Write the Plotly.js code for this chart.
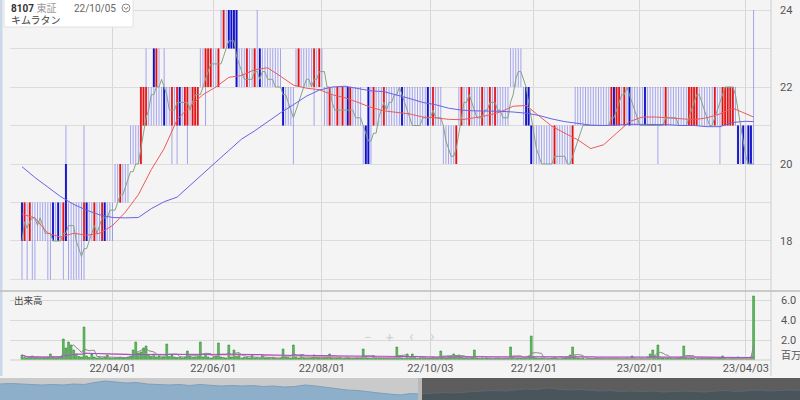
<!DOCTYPE html>
<html><head><meta charset="utf-8">
<script src="https://cdn.plot.ly/plotly-3.0.1.min.js"></script>
<style>html,body{margin:0;padding:0;background:#f4f4f4}#chart{width:800px;height:400px}</style>
</head><body><div id="chart"></div>
<script>
// ---- data ----
const dateTickIdx = [35, 74, 116, 158, 198, 239, 280];
const dateTickText = ['22/04/01', '22/06/01', '22/08/01', '22/10/03', '22/12/01', '23/02/01', '23/04/03'];
const priceTicks = [17, 18, 19, 20, 21, 22, 23, 24];
const priceTickText = ['', '18', '', '20', '', '22', '', '24'];
const volTicks = [0, 2, 4, 6];
const volTickText = ['', '2.0', '4.0', '6.0'];

const openP = [
19,18,18,18,19,18,18,19,18,18, 18,18,19,18,19,18,18,20,19,18,
18,17,17,18,18,19,18,18,18,18, 19,18,19,19,19,19,19,19,19,19,
20,20,20,20,20,20,20,21,21,21, 22,23,22,22,22,22,21,21,21,22,
21,22,21,21,21,21,21,21,21,22, 22,22,22,22,22,22,22,23,23,23,
24,24,24,24,22,22,22,22,22,22, 22,22,23,23,22,22,22,22,22,22,
22,22,22,21,21,21,22,22,22,22, 22,22,22,22,22,22,22,22,21,21,
21,21,21,21,21,21,22,21,21,21, 21,21,21,21,22,21,21,21,22,21,
21,21,22,22,22,22,22,22,21,21, 21,21,21,21,21,22,21,22,21,21,
21,21,21,20,20,20,20,21,20,22, 21,22,21,21,21,21,21,21,21,22,
21,21,21,21,21,21,21,21,22,23, 22,23,22,22,22,22,22,21,20,20,
20,20,20,20,20,20,20,20,20,20, 20,20,20,20,21,21,21,21,21,21,
21,21,21,21,21,21,21,21,21,22, 21,21,22,21,22,22,21,21,21,21,
21,22,21,21,21,21,21,21,21,21, 21,21,21,21,21,21,21,21,21,21,
21,21,21,21,21,21,21,21,21,22, 22,21,21,21,21,21,21,21,20,21,
20,21,21,20];
const highP = [
19,19,19,19,19,19,19,19,19,19, 19,19,19,19,19,19,19,21,19,19,
19,19,19,19,21,19,19,19,19,19, 19,19,19,19,19,19,20,20,20,20,
20,20,21,21,21,21,22,22,23,22, 22,23,23,23,22,23,22,22,22,22,
22,22,22,22,22,22,22,22,22,23, 23,23,23,23,23,23,23,24,24,24,
24,24,24,24,23,23,23,23,23,23, 23,24,23,23,23,23,23,23,23,23,
23,22,22,22,22,22,23,23,23,23, 23,23,23,23,23,23,23,22,22,22,
22,22,22,22,22,22,22,22,22,22, 22,22,21,21,22,22,22,22,22,22,
22,22,22,22,22,22,22,22,22,22, 22,22,22,22,22,22,22,22,22,22,
22,22,22,21,21,21,21,21,21,22, 22,22,22,22,22,22,22,22,22,22,
22,22,22,22,22,22,22,22,22,23, 23,23,23,23,22,22,22,21,21,21,
21,21,21,21,21,21,21,21,21,21, 21,21,21,21,22,22,22,22,22,22,
22,22,22,22,22,22,22,22,22,22, 22,22,22,22,22,22,22,22,22,22,
22,22,22,22,22,22,22,22,22,22, 22,22,22,22,22,22,22,22,22,22,
22,22,22,22,22,22,22,22,22,22, 22,22,22,22,22,22,22,21,21,21,
21,21,21,24];
const lowP = [
17,18,17,18,17,17,18,18,18,18, 17,17,18,18,18,18,17,18,17,17,
17,17,17,17,17,18,18,18,18,18, 18,18,18,18,18,18,19,19,19,19,
19,19,20,20,20,20,20,21,21,21, 21,21,21,21,21,21,21,21,20,21,
20,21,21,21,20,21,21,21,21,22, 22,21,22,22,22,22,22,23,23,23,
23,23,23,22,22,22,22,22,22,22, 22,22,22,22,22,22,22,22,22,22,
22,21,21,21,21,20,22,22,22,22, 22,22,22,21,22,22,22,21,21,21,
21,21,21,21,21,21,21,21,21,21, 21,21,20,20,20,20,21,21,21,21,
21,21,21,21,21,21,21,21,21,21, 21,21,21,21,21,21,21,21,21,21,
21,21,21,20,20,20,20,20,20,21, 21,21,21,21,21,21,21,21,21,21,
21,21,21,21,21,21,21,21,21,22, 22,22,22,22,21,21,21,20,20,20,
20,20,20,20,20,20,20,20,20,20, 20,20,20,20,21,21,21,21,21,21,
21,21,21,21,21,21,21,21,21,21, 21,21,21,21,21,21,21,21,21,21,
21,21,21,21,21,21,20,21,21,21, 21,21,21,21,21,21,21,21,21,21,
21,21,21,21,21,21,21,21,21,21, 20,21,21,21,21,21,21,20,20,20,
20,20,20,20];
const closeP = [
18,19,18,19,19,18,18,19,18,18, 18,18,18,18,18,18,19,18,19,18,
18,17,17,18,19,18,18,18,19,18, 19,19,18,19,19,19,19,19,20,19,
20,20,20,20,20,20,22,22,22,21, 22,22,23,22,22,21,21,21,22,22,
22,21,21,22,22,21,22,22,22,22, 22,23,23,23,22,22,23,23,24,23,
23,23,23,22,22,22,22,23,22,22, 23,22,22,23,22,22,22,22,22,22,
22,21,22,21,21,21,22,23,22,22, 22,22,22,23,22,23,22,22,21,22,
21,21,22,21,22,21,21,22,21,21, 21,21,21,20,20,21,22,21,22,21,
22,21,22,22,22,22,22,21,21,21, 21,21,21,21,21,22,21,21,21,22,
21,21,21,20,20,20,20,21,21,22, 22,22,21,22,21,21,21,21,22,22,
21,22,21,22,21,21,21,21,22,23, 22,23,22,22,22,21,21,20,20,20,
20,20,20,20,20,20,21,20,20,20, 20,20,20,21,21,21,21,21,21,21,
21,21,21,21,21,21,21,21,22,21, 22,22,22,22,22,21,21,21,21,21,
21,21,21,21,21,21,21,21,21,22, 21,21,21,21,21,21,21,21,22,22,
22,22,21,21,21,21,21,21,22,22, 22,22,22,22,22,22,21,20,20,20,
20,20,20,20];
// volume, millions of shares
const volume = [
0.5,0.25,0.2,0.3,0.4,0.22,0.3,0.18,0.25,0.2, 0.3,0.6,0.35,0.2,0.25,0.3,2.1,1.2,1.8,1.5,
1.0,0.6,0.35,0.3,3.3,0.4,0.25,0.6,0.3,0.2, 0.25,0.2,0.3,0.5,0.2,0.15,0.2,0.25,0.3,0.2,
0.25,0.3,0.4,1.0,1.8,0.7,0.8,1.2,1.4,0.5, 0.35,0.6,0.3,0.4,0.25,0.3,1.6,0.35,0.5,0.3,
0.25,0.3,0.2,0.3,0.9,0.4,0.25,0.3,0.35,1.8, 0.3,0.6,0.3,0.2,0.25,0.4,1.7,0.3,0.25,0.2,
1.5,0.3,1.0,0.35,0.6,0.2,0.3,0.25,0.2,0.5, 0.2,0.25,0.15,0.5,0.2,0.2,0.15,0.25,0.2,0.15,
0.2,1.1,0.3,0.25,0.2,1.5,0.3,0.2,0.5,0.25, 0.2,0.15,0.2,0.5,0.25,0.2,0.15,0.2,0.3,0.6,
0.2,0.15,0.2,0.25,0.15,0.2,0.3,0.2,0.15,0.2, 0.25,0.2,1.1,0.35,0.2,0.15,0.4,0.2,0.15,0.2,
0.15,0.2,0.25,0.15,0.2,1.3,0.3,0.2,0.15,0.6, 0.2,0.6,0.25,0.15,0.2,0.15,0.2,0.15,0.2,0.3,
0.2,0.25,0.9,0.3,0.2,0.35,0.4,0.6,0.45,0.5, 0.3,0.2,0.25,0.15,0.2,1.0,0.2,0.15,0.2,0.15,
0.2,0.15,0.1,0.15,0.2,0.15,0.1,0.2,0.15,1.3, 0.3,0.15,0.2,0.15,0.25,0.3,0.4,2.4,0.35,0.2,
0.15,0.2,0.15,0.1,0.15,0.2,0.25,0.15,0.1,0.15, 0.2,0.3,0.5,1.3,0.4,0.2,0.15,0.2,0.1,0.15,
0.15,0.1,0.15,0.2,0.1,0.15,0.1,0.15,0.2,0.15, 0.2,0.15,0.1,0.15,0.2,0.15,0.4,0.15,0.1,0.15,
0.2,0.15,0.3,0.6,1.0,0.4,1.5,0.3,0.2,0.15, 0.2,0.15,0.1,0.15,0.2,0.3,1.4,0.2,0.15,0.2,
0.15,0.1,0.15,0.2,0.1,0.15,0.2,0.15,0.1,0.15, 0.2,0.4,0.15,0.1,0.15,0.2,0.15,0.3,0.2,0.15,
0.2,0.25,0.3,6.4];
// 25-day and 75-day moving averages of price, read every 5 trading days
const ma25 = [18.7,18.6,18.2,18.1,18.2,18.15,18.2,18.4,18.75,19.2,
19.85,20.4,21.15,21.5,21.8,22.0,22.25,22.3,22.45,22.5,
22.28,22.05,21.97,21.93,21.8,21.72,21.6,21.47,21.38,21.34,
21.3,21.22,21.2,21.16,21.15,21.2,21.26,21.35,21.5,21.52,
21.25,20.98,20.8,20.63,20.4,20.5,20.8,21.1,21.22,21.22,
21.2,21.18,21.15,21.2,21.3,21.45,21.3,21.22];
const ma75 = [19.93,19.65,19.4,19.15,18.95,18.8,18.68,18.61,18.6,18.61,
18.84,19.02,19.14,19.45,19.75,20.05,20.35,20.65,20.86,21.1,
21.33,21.54,21.76,21.92,22.0,22.02,21.96,21.9,21.88,21.8,
21.7,21.6,21.54,21.45,21.4,21.38,21.38,21.37,21.35,21.32,
21.26,21.17,21.1,21.06,21.01,21.0,21.02,21.03,21.03,21.03,
21.02,21.0,21.0,20.97,20.97,21.08,21.11,21.1];
// navigator overview (relative height)
const navPast = [16,16.5,16,15.5,15,15.5,15,16,15.5,17.5,19,18,17,17.5,16,15.5,15,15.5,14.5,15.5,
14.5,14,14.5,14,14.5,13.5,14,13,13.5,15,14,12.5,11,10,9.5,8,7,6,5,6.5,6];
const navRecent = [6,7,7.5,7,8,8.5,9,9.5,9,10,11,10.5,12,11,10,10.5,9.5,9,9.5,8.5,
9,8.5,9,8,8.5,9,8.5,8,9,9.5,8.5,9,10,9,9.5,10,9.5];

// ---- helpers ----
const N = closeP.length;
const idx = closeP.map((_, i) => i);
function sma(arr, n) {
  return arr.map((_, i) => {
    const s = Math.max(0, i - n + 1); let t = 0;
    for (let k = s; k <= i; k++) t += arr[k];
    return t / (i - s + 1);
  });
}
const maIdx = ma25.map((_, k) => Math.min(k * 5, N - 1));

function segs(ids, a, b) {
  const x = [], y = [];
  ids.forEach(i => { x.push(i, i, null); y.push(a[i], b[i], null); });
  return {x, y};
}
const upIds = idx.filter(i => closeP[i] > openP[i]);
const dnIds = idx.filter(i => closeP[i] < openP[i]);
function bodyFill(ids, fill) {
  return {type: 'bar', x: ids, base: ids.map(i => Math.min(openP[i], closeP[i])),
    y: ids.map(i => Math.abs(closeP[i] - openP[i])), width: 0.95,
    marker: {color: fill, line: {width: 0}}, xaxis: 'x', yaxis: 'y', hoverinfo: 'skip'};
}
function segTrace(s, color, w) {
  return {type: 'scatter', mode: 'lines', x: s.x, y: s.y, xaxis: 'x', yaxis: 'y', connectgaps: false,
    line: {color, width: w}, hoverinfo: 'skip'};
}
const line = (x, y, color, yaxis, w) => ({type: 'scatter', mode: 'lines', x, y, xaxis: 'x', yaxis,
  line: {color, width: w || 1}, hoverinfo: 'skip'});

const traces = [
  bodyFill(upIds, 'rgba(240,90,90,0.38)'),
  bodyFill(dnIds, 'rgba(110,110,235,0.30)'),
  segTrace(segs(idx, lowP, highP), 'rgba(115,115,235,0.62)', 1),
  segTrace(segs(upIds, openP, closeP), '#e80f0f', 1.6),
  segTrace(segs(dnIds, openP, closeP), '#1010c8', 1.8),
  line(idx, sma(closeP, 5), '#86a286', 'y'),
  line(maIdx, ma25, '#ec5a5a', 'y'),
  line(maIdx, ma75, '#6a62e6', 'y'),
  {type: 'bar', x: idx, y: volume, xaxis: 'x', yaxis: 'y2', width: 0.7,
   marker: {color: '#62c062', line: {color: '#2e8a2e', width: 0.6}}, hoverinfo: 'skip'},
  line(idx, sma(volume, 5), '#8a8a8a', 'y2'),
  line(idx, sma(volume, 25), '#f08aa8', 'y2'),
  line(idx, sma(volume, 75), '#9a50d0', 'y2'),
  {type: 'scatter', mode: 'lines', x: navPast.map((_, k) => k), y: navPast, xaxis: 'x3', yaxis: 'y3',
   fill: 'tozeroy', fillcolor: '#8eafca', line: {color: '#7c9fbf', width: 1}, hoverinfo: 'skip'},
  {type: 'scatter', mode: 'lines', x: navRecent.map((_, k) => k + navPast.length - 1), y: navRecent,
   xaxis: 'x3', yaxis: 'y3', fill: 'tozeroy', fillcolor: '#4a545b', line: {color: '#5b676f', width: 1}, hoverinfo: 'skip'}
];

const px = v => v / 800, py = v => 1 - v / 400;
const layout = {
  width: 800, height: 400, margin: {l: 0, r: 0, t: 0, b: 0},
  paper_bgcolor: '#f4f4f4', plot_bgcolor: '#f4f4f4', showlegend: false, barmode: 'overlay',
  font: {family: 'Roboto, "Noto Sans CJK JP", sans-serif', size: 11, color: '#555'},
  xaxis: {domain: [px(10), px(771)], range: [-4.64, 289.75], anchor: 'y2',
    tickmode: 'array', tickvals: dateTickIdx, ticktext: dateTickText,
    showgrid: true, gridcolor: '#d7d7d7', zeroline: false, showline: false, ticks: '',
    tickfont: {size: 11, color: '#555'}},
  yaxis: {domain: [py(290), 1], range: [16.727, 24.26], side: 'right', anchor: 'x',
    tickmode: 'array', tickvals: priceTicks, ticktext: priceTickText, gridcolor: '#dcdcdc',
    zeroline: false, ticks: '', ticklabelstandoff: 8, tickfont: {size: 11, color: '#555'}},
  yaxis2: {domain: [py(360), py(291)], range: [0, 6.9], side: 'right', anchor: 'x',
    tickmode: 'array', tickvals: volTicks, ticktext: volTickText, gridcolor: '#d9d9d9',
    zeroline: false, ticks: '', ticklabelstandoff: 9, tickfont: {size: 11, color: '#555'}},
  xaxis3: {domain: [0, 1], range: [0, navPast.length + navRecent.length - 2], anchor: 'y3', visible: false},
  yaxis3: {domain: [0, py(378)], range: [0, 22], anchor: 'x3', visible: false},
  shapes: [
    {type: 'rect', xref: 'paper', yref: 'paper', x0: 0, x1: px(421), y0: 0, y1: py(378), fillcolor: '#cacaca', line: {width: 0}, layer: 'below'},
    {type: 'rect', xref: 'paper', yref: 'paper', x0: px(421), x1: 1, y0: 0, y1: py(378), fillcolor: '#5d5d5d', line: {width: 0}, layer: 'below'},
    {type: 'rect', xref: 'paper', yref: 'paper', x0: px(418), x1: px(422), y0: 0, y1: py(378), fillcolor: '#b9b9b9', line: {width: 0}},
    {type: 'rect', xref: 'paper', yref: 'paper', x0: 0, x1: px(2.5), y0: py(376), y1: 1, fillcolor: '#cbd8ea', line: {width: 0}},
    {type: 'line', xref: 'paper', yref: 'paper', x0: px(771), x1: px(771), y0: py(376), y1: 1, line: {color: '#cdcdcd', width: 1}},
    {type: 'line', xref: 'paper', yref: 'paper', x0: 0, x1: 1, y0: py(291), y1: py(291), line: {color: '#bdbdbd', width: 1.5}},
    {type: 'line', xref: 'paper', yref: 'paper', x0: px(10), x1: px(771), y0: py(360), y1: py(360), line: {color: '#cfcfcf', width: 1}},
    {type: 'rect', xref: 'paper', yref: 'paper', x0: px(4), x1: px(133), y0: py(27), y1: py(-4), fillcolor: '#ffffff', line: {color: '#e0e0e0', width: 1}},
    {type: 'circle', xref: 'paper', yref: 'paper', x0: px(122), x1: px(130), y0: py(12), y1: py(4), line: {color: '#888', width: 1}},
    {type: 'path', xref: 'paper', yref: 'paper', path: `M ${px(124)} ${py(7)} L ${px(126)} ${py(9.5)} L ${px(128)} ${py(7)}`, line: {color: '#888', width: 1}}
  ],
  annotations: [
    {xref: 'paper', yref: 'paper', x: px(9), y: py(8), xanchor: 'left', yanchor: 'middle', showarrow: false,
     text: '<b>8107</b> <span style="color:#9a9a9a">東証</span>', font: {size: 10, color: '#333'}},
    {xref: 'paper', yref: 'paper', x: px(118), y: py(8), xanchor: 'right', yanchor: 'middle', showarrow: false,
     text: '22/10/05', font: {size: 10, color: '#666'}},
    {xref: 'paper', yref: 'paper', x: px(9), y: py(20), xanchor: 'left', yanchor: 'middle', showarrow: false,
     text: 'キムラタン', font: {size: 10, color: '#444'}},
    {xref: 'paper', yref: 'paper', x: px(12), y: py(300), xanchor: 'left', yanchor: 'middle', showarrow: false,
     text: '出来高', font: {size: 9.5, color: '#444'}},
    {xref: 'paper', yref: 'paper', x: px(779), y: py(355), xanchor: 'left', yanchor: 'middle', showarrow: false,
     text: '百万', font: {size: 10, color: '#555'}},
    {xref: 'paper', yref: 'paper', x: px(367), y: py(347), showarrow: false, text: '−', font: {size: 13, color: '#d0d0d0'}},
    {xref: 'paper', yref: 'paper', x: px(389), y: py(347), showarrow: false, text: '+', font: {size: 13, color: '#d0d0d0'}},
    {xref: 'paper', yref: 'paper', x: px(411), y: py(347), showarrow: false, text: '‹', font: {size: 15, color: '#d0d0d0'}},
    {xref: 'paper', yref: 'paper', x: px(432), y: py(347), showarrow: false, text: '›', font: {size: 15, color: '#d0d0d0'}}
  ]
};
Plotly.newPlot('chart', traces, layout, {displayModeBar: false, staticPlot: true});
</script>
</body></html>
